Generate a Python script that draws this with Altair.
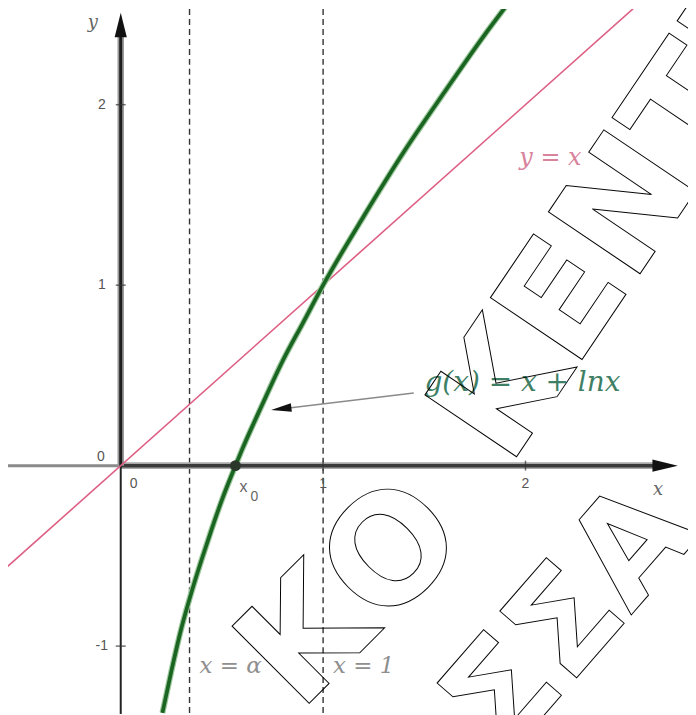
import altair as alt
import pandas as pd

# ---- data ----
X_DOMAIN = [-0.557, 2.803]
Y_DOMAIN = [-1.376, 2.530]

# g(x) = x + ln x
g_x = [0.206, 0.25, 0.30, 0.35, 0.40, 0.45, 0.50, 0.567, 0.60, 0.70, 0.80, 0.90, 1.00, 1.20, 1.40, 1.60, 1.80, 1.90]
g_y = [-1.37, -1.14, -0.90, -0.70, -0.52, -0.35, -0.19, 0.00, 0.09, 0.34, 0.58, 0.79, 1.00, 1.38, 1.74, 2.07, 2.39, 2.54]

# y = x
id_x = [-0.56, 2.56]
id_y = [-0.56, 2.56]

# dashed verticals x = alpha, x = 1
v_x = [0.34, 1.0]
v_text = ["x = α", "x = 1"]
v_label_y = [-1.11, -1.11]

x_ticks = [1, 2]
x_tick_labels = ["1", "2"]
y_ticks = [-1, 1, 2]
y_tick_labels = ["-1", "1", "2"]

x0 = 0.567

# axis extents (start, end of drawn axis line)
x_axis_neg = [-0.557, 0.0]
x_axis_pos = [0.0, 2.66]
y_axis_neg = [-1.376, 0.0]
y_axis_pos = [0.0, 2.40]
x_arrow = [2.69, 0.0]
y_arrow = [0.0, 2.442]

# axis names
name_x = [2.655, -0.138]
name_y = [-0.133, 2.453]
name_t = ["x", "y"]

# annotation arrow for g(x)
ann_x = [1.448, 0.80]
ann_y = [0.403, 0.315]
ann_head = [0.793, 0.315]
g_label = [1.985, 0.460]
id_label = [2.123, 1.707]

# watermark words: text, x, y, angle, align, size
wm_text = ["ΚΕΝΤΡΟ", "ΚΟ", "ΣΣΑ"]
wm_x = [1.729, 1.576, 2.714]
wm_y = [0.127, -0.243, -0.227]
wm_angle = [304, 315, 311]
wm_align = ["left", "right", "right"]
wm_size = [152, 150, 140]

XS = alt.Scale(domain=X_DOMAIN, nice=False, zero=False)
YS = alt.Scale(domain=Y_DOMAIN, nice=False, zero=False)


def X(f="x"):
    return alt.X(f"{f}:Q", scale=XS, axis=None)


def Y(f="y"):
    return alt.Y(f"{f}:Q", scale=YS, axis=None)


layers = []

# dashed verticals
vdf = pd.DataFrame({"x": v_x, "t": v_text, "ly": v_label_y})
layers.append(alt.Chart(vdf).mark_rule(color="#333333", strokeWidth=1.4, strokeDash=[6, 4]).encode(x=X()))


# axes
def hrule(seg, color, width):
    d = pd.DataFrame({"x": [seg[0]], "x2": [seg[1]], "y": [0.0]})
    return alt.Chart(d).mark_rule(color=color, strokeWidth=width).encode(x=X(), x2=alt.X2("x2"), y=Y())


def vrule(seg, color, width):
    d = pd.DataFrame({"y": [seg[0]], "y2": [seg[1]], "x": [0.0]})
    return alt.Chart(d).mark_rule(color=color, strokeWidth=width).encode(y=Y(), y2=alt.Y2("y2"), x=X())


layers.append(hrule(x_axis_neg, "#8a8a8a", 3))
layers.append(hrule(x_axis_pos, "#a8a8a8", 7))
layers.append(hrule(x_axis_pos, "#3a3a3a", 3.5))
layers.append(vrule(y_axis_neg, "#222222", 2))
layers.append(vrule(y_axis_pos, "#9a9a9a", 6.5))
layers.append(vrule(y_axis_pos, "#1e1e1e", 3))

# arrow heads of axes
adf = pd.DataFrame({"x": [x_arrow[0]], "y": [x_arrow[1]]})
layers.append(alt.Chart(adf).mark_point(shape="M1,0L-1,-0.48L-1,0.48Z", size=650, filled=True,
                                        color="#111111", opacity=1).encode(x=X(), y=Y()))
adf2 = pd.DataFrame({"x": [y_arrow[0]], "y": [y_arrow[1]]})
layers.append(alt.Chart(adf2).mark_point(shape="M0,-1L-0.5,1L0.5,1Z", size=600, filled=True,
                                         color="#111111", opacity=1).encode(x=X(), y=Y()))

# ticks
xt = pd.DataFrame({"x": x_ticks, "t": x_tick_labels, "y": [0.0] * len(x_ticks)})
layers.append(alt.Chart(xt).mark_tick(orient="vertical", size=10, thickness=1.5, color="#333333")
              .encode(x=X(), y=Y()))
yt = pd.DataFrame({"y": y_ticks, "t": y_tick_labels, "x": [0.0] * len(y_ticks)})
layers.append(alt.Chart(yt).mark_tick(orient="horizontal", size=10, thickness=1.5, color="#333333")
              .encode(y=Y(), x=X()))

# tick labels
layers.append(alt.Chart(xt).mark_text(dy=18, font="Liberation Sans", fontSize=14, color="#555555")
              .encode(x=X(), y=Y(), text="t:N"))
layers.append(alt.Chart(yt).mark_text(dx=-19, font="Liberation Sans", fontSize=14, color="#555555")
              .encode(y=Y(), x=X(), text="t:N"))
zdf = pd.DataFrame({"x": [0.0], "y": [0.0], "t": ["0"]})
layers.append(alt.Chart(zdf).mark_text(dx=13, dy=18, font="Liberation Sans", fontSize=14, color="#555555")
              .encode(x=X(), y=Y(), text="t:N"))
layers.append(alt.Chart(zdf).mark_text(dx=-20, dy=-9, font="Liberation Sans", fontSize=14, color="#555555")
              .encode(x=X(), y=Y(), text="t:N"))

# axis names
ndf = pd.DataFrame({"x": name_x, "y": name_y, "t": name_t})
layers.append(alt.Chart(ndf).mark_text(font="DejaVu Serif", fontStyle="italic", fontSize=18, color="#666666")
              .encode(x=X(), y=Y(), text="t:N"))

# y = x
idf = pd.DataFrame({"x": id_x, "y": id_y})
layers.append(alt.Chart(idf).mark_line(color="#de5f84", strokeWidth=1.6, clip=True).encode(x=X(), y=Y()))

# g(x)
gdf = pd.DataFrame({"x": g_x, "y": g_y})
layers.append(alt.Chart(gdf).mark_line(color="#9cc79c", strokeWidth=6, interpolate="monotone", clip=True)
              .encode(x=X(), y=Y()))
layers.append(alt.Chart(gdf).mark_line(color="#1a6521", strokeWidth=3.7, interpolate="monotone", clip=True)
              .encode(x=X(), y=Y()))

# x0 point and label
pdf = pd.DataFrame({"x": [x0], "y": [0.0]})
layers.append(alt.Chart(pdf).mark_circle(size=120, color="#2a372a", opacity=1).encode(x=X(), y=Y()))
layers.append(alt.Chart(pdf.assign(t="x")).mark_text(dx=8, dy=21, font="Liberation Sans", fontSize=16,
                                                     color="#666666").encode(x=X(), y=Y(), text="t:N"))
layers.append(alt.Chart(pdf.assign(t="0")).mark_text(dx=19, dy=31, font="Liberation Sans", fontSize=14,
                                                     color="#666666").encode(x=X(), y=Y(), text="t:N"))

# labels of the dashed lines
layers.append(alt.Chart(vdf).mark_text(align="left", dx=10, font="DejaVu Serif", fontStyle="italic",
                                       fontSize=23, color="#8f8f8f").encode(x=X(), y=Y("ly"), text="t:N"))

# y = x label
ldf = pd.DataFrame({"x": [id_label[0]], "y": [id_label[1]], "t": ["y = x"]})
layers.append(alt.Chart(ldf).mark_text(font="DejaVu Serif", fontStyle="italic", fontSize=24,
                                       color="#d8839c").encode(x=X(), y=Y(), text="t:N"))

# g(x) label and arrow
gl = pd.DataFrame({"x": [g_label[0]], "y": [g_label[1]], "t": ["g(x) = x + lnx"]})
layers.append(alt.Chart(gl).mark_text(font="DejaVu Serif", fontStyle="italic", fontSize=28,
                                      color="#3f7f66").encode(x=X(), y=Y(), text="t:N"))
andf = pd.DataFrame({"x": ann_x, "y": ann_y})
layers.append(alt.Chart(andf).mark_line(color="#8a8a8a", strokeWidth=1.5).encode(x=X(), y=Y()))
hdf = pd.DataFrame({"x": [ann_head[0]], "y": [ann_head[1]]})
layers.append(alt.Chart(hdf).mark_point(shape="M-1,0L1,-0.42L1,0.42Z", size=420, filled=True,
                                        color="#111111", opacity=1, angle=353).encode(x=X(), y=Y()))

# watermark
for t, wx, wy, a, al, fs in zip(wm_text, wm_x, wm_y, wm_angle, wm_align, wm_size):
    wdf = pd.DataFrame({"x": [wx], "y": [wy], "t": [t]})
    layers.append(alt.Chart(wdf).mark_text(align=al, baseline="middle", angle=a, font="DejaVu Sans",
                                           fontWeight="bold", fontSize=fs, fill="white", fillOpacity=0,
                                           stroke="black", strokeWidth=1)
                  .encode(x=X(), y=Y(), text="t:N"))

chart = alt.layer(*layers).properties(
    width=682, height=707, autosize=alt.AutoSizeParams(type="none"), padding=0,
    background="white"
).configure_view(stroke=None)

chart.save("out.html", embed_options={"renderer": "svg", "actions": False})
